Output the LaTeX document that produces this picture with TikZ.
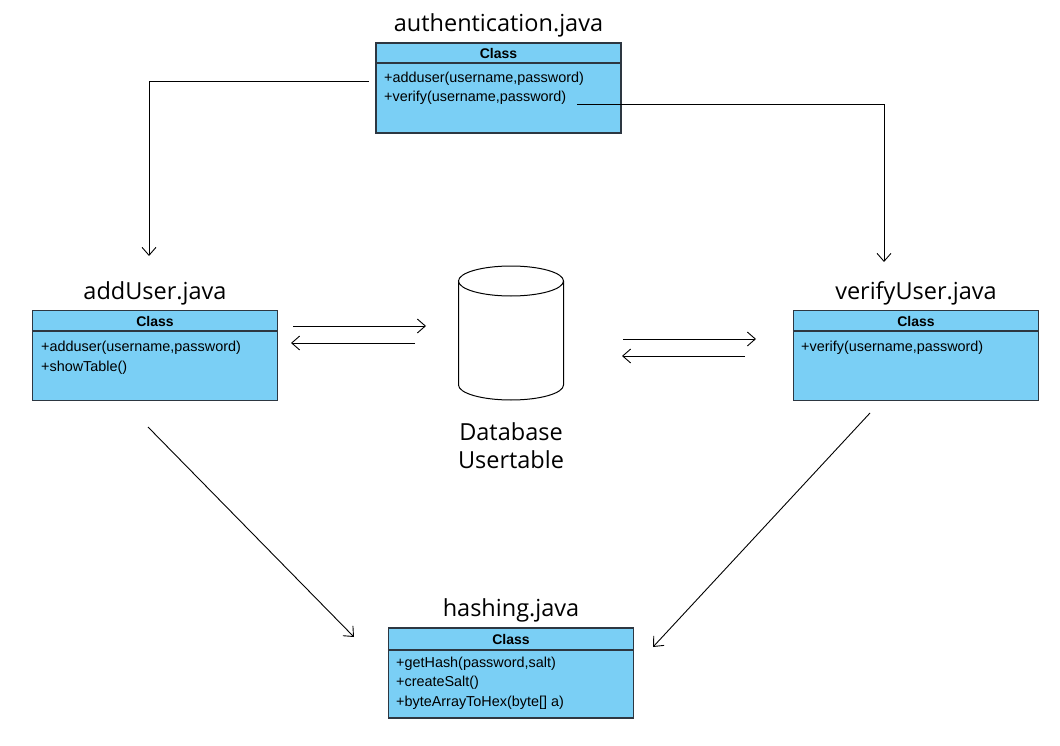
\documentclass[tikz,border=0pt]{standalone}
\usepackage{fontspec}
\setmainfont{Liberation Sans}
\newfontfamily\titlefont{Open Sans}
\usetikzlibrary{arrows.meta}
\definecolor{boxfill}{RGB}{122,207,245}
\definecolor{boxline}{RGB}{45,55,65}
\begin{document}
\begin{tikzpicture}[x=1pt,y=-1pt,
  classbox/.style={draw=boxline,fill=boxfill,line width=1.1pt,minimum width=245pt,minimum height=90pt,inner sep=0pt},
  titletext/.style={font=\titlefont\fontsize{23.5}{28}\selectfont,inner sep=0pt},
  hdr/.style={font=\bfseries\fontsize{14}{16}\selectfont,inner sep=0pt},
  member/.style={font=\fontsize{14.4}{16}\selectfont,inner sep=0pt,anchor=base west},
  conn/.style={line width=0.9pt,-{Straight Barb[length=8pt,width=14pt,line width=0.9pt]}}
]
\useasboundingbox (0,0) rectangle (1060,746);
\fill[white] (0,0) rectangle (1060,746);

% authentication
\node[classbox] (auth) at (498.5,88) {};
\draw[boxline,line width=1.1pt] (auth.west |- 0,63) -- (auth.east |- 0,63);
\node[titletext] (authT) at (498.5,25) {authentication.java};
\node[hdr] (authH) at (498.5,53) {Class};
\node[member] (authM1) at (384,83) {+adduser(username,password)};
\node[member] (authM2) at (384,102) {+verify(username,password)};

% addUser
\node[classbox] (add) at (155,355.5) {};
\draw[boxline,line width=1.1pt] (add.west |- 0,331) -- (add.east |- 0,331);
\node[titletext] (addT) at (155,293) {addUser.java};
\node[hdr] (addH) at (155,321) {Class};
\node[member] (addM1) at (41,351) {+adduser(username,password)};
\node[member] (addM2) at (41,371) {+showTable()};

% verifyUser
\node[classbox] (ver) at (916,355.5) {};
\draw[boxline,line width=1.1pt] (ver.west |- 0,331) -- (ver.east |- 0,331);
\node[titletext] (verT) at (916,293) {verifyUser.java};
\node[hdr] (verH) at (916,321) {Class};
\node[member] (verM1) at (801,351) {+verify(username,password)};

% hashing
\node[classbox] (hash) at (511,673) {};
\draw[boxline,line width=1.1pt] (hash.west |- 0,650) -- (hash.east |- 0,650);
\node[titletext] (hashT) at (511,610) {hashing.java};
\node[hdr] (hashH) at (511,639) {Class};
\node[member] (hashM1) at (396,667) {+getHash(password,salt)};
\node[member] (hashM2) at (396,686.5) {+createSalt()};
\node[member] (hashM3) at (396,706) {+byteArrayToHex(byte[] a)};

% database cylinder
\coordinate (db) at (511,333);
\draw[line width=1pt,fill=white] (458.5,281) -- (458.5,385) arc[start angle=180,end angle=0,x radius=52.5,y radius=15] -- (563.5,281);
\draw[line width=1pt,fill=white] (511,281) ellipse[x radius=52.5,y radius=15];
\node[titletext,align=center] (dbT) at (511,446) {Database\\Usertable};

% connectors
\coordinate (a1) at (369,81);
\coordinate (a2) at (149,256);
\draw[conn] (a1) -- (149,81) -- (a2);
\coordinate (b1) at (577,104);
\coordinate (b2) at (884,262);
\draw[conn] (b1) -- (884,104) -- (b2);

\coordinate (l1s) at (293,326); \coordinate (l1e) at (426,326);
\coordinate (l2s) at (415,343); \coordinate (l2e) at (291,343);
\draw[conn] (l1s) -- (l1e);
\draw[conn] (l2s) -- (l2e);
\coordinate (r1s) at (623,339); \coordinate (r1e) at (756,339);
\coordinate (r2s) at (745,356); \coordinate (r2e) at (622,356);
\draw[conn] (r1s) -- (r1e);
\draw[conn] (r2s) -- (r2e);

\coordinate (d1s) at (148,427); \coordinate (d1e) at (354,637);
\draw[conn] (d1s) -- (d1e);
\coordinate (d2s) at (870,413); \coordinate (d2e) at (653,647);
\draw[conn] (d2s) -- (d2e);
\end{tikzpicture}
\end{document}
